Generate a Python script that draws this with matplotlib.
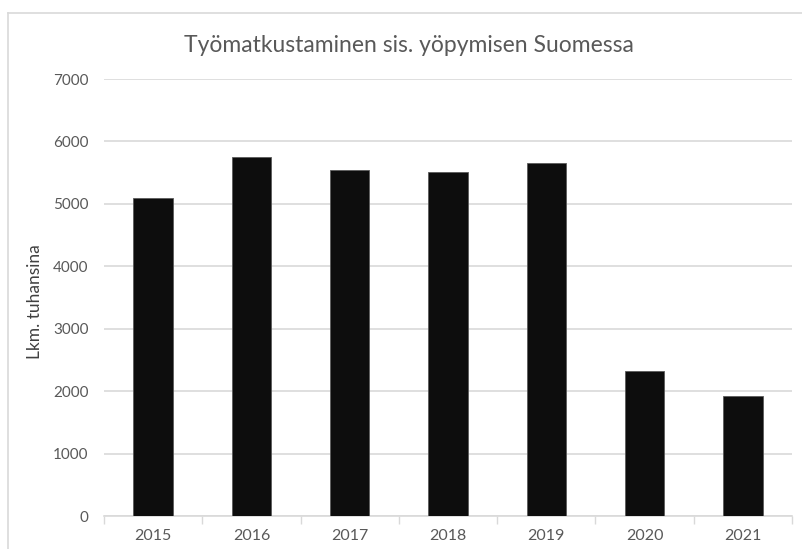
import matplotlib
matplotlib.use("Agg")
import matplotlib.pyplot as plt
from matplotlib.lines import Line2D

# data (thousands of trips)
years = ["2015", "2016", "2017", "2018", "2019", "2020", "2021"]
trips = [5090, 5755, 5540, 5505, 5650, 2320, 1925]
yticks = [0, 1000, 2000, 3000, 4000, 5000, 6000, 7000]

plt.rcParams["font.family"] = ["Lato", "DejaVu Sans"]
txt = "#595959"
grid = "#d9d9d9"

fig = plt.figure(figsize=(8.03, 5.49), dpi=100)
ax = fig.add_axes([104 / 803, 33 / 549, 688 / 803, 437 / 549])

x = range(len(years))
ax.bar(x, trips, width=0.4, color="#0d0d0d", edgecolor="#5a5a5a", linewidth=0.6, zorder=3)

ax.set_xlim(-0.5, len(years) - 0.5)
ax.set_ylim(0, 7000)
ax.set_yticks(yticks)
ax.set_yticklabels([str(v) for v in yticks], fontsize=11, color=txt)
ax.set_xticks(list(x))
ax.set_xticklabels(years, fontsize=11.5, color=txt)
ax.tick_params(axis="y", length=0, pad=11)
ax.tick_params(axis="x", length=0, pad=9)
# category boundary ticks
ax.set_xticks([i - 0.5 for i in range(len(years) + 1)], minor=True)
ax.tick_params(axis="x", which="minor", length=6, color=grid, width=1)

ax.grid(axis="y", color=grid, linewidth=1.2, zorder=0)
for s in ["top", "right", "left"]:
    ax.spines[s].set_visible(False)
ax.spines["bottom"].set_color(grid)
ax.spines["bottom"].set_linewidth(1.2)

ax.set_ylabel("Lkm. tuhansina", fontsize=12.5, color="#404040")
ax.yaxis.set_label_coords(-0.088, 0.49)

fig.text(409 / 803, 1 - 45 / 549, "Työmatkustaminen sis. yöpymisen Suomessa",
         ha="center", va="center", fontsize=16.5, color=txt)

# chart border (only top and left visible in crop)
fig.add_artist(Line2D([8 / 803, 8 / 803], [0, 1 - 13 / 549], color=grid, lw=1.2))
fig.add_artist(Line2D([8 / 803, 1], [1 - 13 / 549, 1 - 13 / 549], color=grid, lw=1.2))

fig.savefig("out.png", dpi=100)
